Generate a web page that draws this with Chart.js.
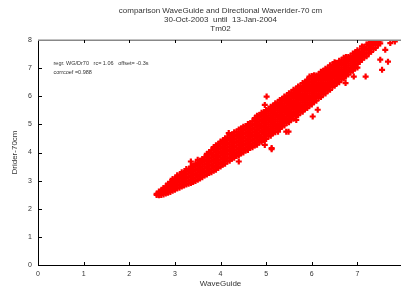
<!DOCTYPE html>
<html>
<head>
<meta charset="utf-8">
<script src="https://cdn.jsdelivr.net/npm/chart.js@4.4.1/dist/chart.umd.min.js"></script>
<style>
  html, body { margin: 0; padding: 0; background: #fff; overflow: hidden; }
  #wrap { width: 410px; height: 287px; }
</style>
</head>
<body>
<div id="wrap"><canvas id="tm02" width="410" height="287"></canvas></div>
<script>
// Tm02 비교 산점도: WaveGuide(가로) vs Directional Waverider-70cm(세로)

var titleLines = ['comparison WaveGuide and Directional Waverider-70 cm', '30-Oct-2003  until  13-Jan-2004', 'Tm02'];
var tickValues = [0, 1, 2, 3, 4, 5, 6, 7, 8];
var statLines = ['regr. WG/Dr70   rc= 1.06   offset= -0.3s', 'corrcoef =0.988'];

// WaveGuide 값 (열 단위로 읽음)
var wgCols = [
  2.60, 2.65, 2.70, 2.75, 2.80, 2.85, 2.90, 2.95, 3.00, 3.05,
  3.10, 3.15, 3.20, 3.25, 3.30, 3.35, 3.40, 3.45, 3.50, 3.55,
  3.60, 3.65, 3.70, 3.75, 3.80, 3.85, 3.90, 3.95, 4.00, 4.05,
  4.10, 4.15, 4.20, 4.25, 4.30, 4.35, 4.40, 4.45, 4.50, 4.55,
  4.60, 4.65, 4.70, 4.75, 4.80, 4.85, 4.90, 4.95, 5.00, 5.05,
  5.10, 5.15, 5.20, 5.25, 5.30, 5.35, 5.40, 5.45, 5.50, 5.55,
  5.60, 5.65, 5.70, 5.75, 5.80, 5.85, 5.90, 5.95, 6.00, 6.05,
  6.10, 6.15, 6.20, 6.25, 6.30, 6.35, 6.40, 6.45, 6.50, 6.55,
  6.60, 6.65, 6.70, 6.75, 6.80, 6.85, 6.90, 6.95, 7.00, 7.05,
  7.10, 7.15, 7.20, 7.25, 7.30, 7.35, 7.40, 7.45, 7.50
];

// 같은 열의 Waverider 값들
var drCols = [
  [2.49, 2.53],
  [2.48, 2.55, 2.61],
  [2.49, 2.57, 2.65],
  [2.51, 2.60, 2.68, 2.74],
  [2.54, 2.63, 2.72, 2.80],
  [2.57, 2.66, 2.75, 2.84, 2.89],
  [2.60, 2.69, 2.78, 2.87, 2.95],
  [2.64, 2.73, 2.82, 2.91, 3.00, 3.06],
  [2.68, 2.78, 2.88, 2.98, 3.07],
  [2.72, 2.83, 2.93, 3.03, 3.13, 3.19],
  [2.75, 2.86, 2.97, 3.08, 3.18],
  [2.79, 2.90, 3.01, 3.12, 3.23, 3.30],
  [2.83, 2.94, 3.05, 3.16, 3.27],
  [2.86, 2.98, 3.10, 3.22, 3.34, 3.41],
  [2.89, 3.01, 3.13, 3.26, 3.38],
  [2.92, 3.04, 3.17, 3.30, 3.43, 3.50],
  [2.95, 3.07, 3.20, 3.33, 3.46, 3.54],
  [2.99, 3.11, 3.24, 3.37, 3.50, 3.60],
  [3.03, 3.16, 3.29, 3.42, 3.55, 3.64],
  [3.08, 3.21, 3.34, 3.47, 3.60, 3.71],
  [3.12, 3.25, 3.38, 3.51, 3.64, 3.77],
  [3.18, 3.31, 3.44, 3.57, 3.70, 3.83],
  [3.22, 3.35, 3.48, 3.61, 3.74, 3.87, 3.95],
  [3.27, 3.40, 3.53, 3.66, 3.79, 3.92, 4.02],
  [3.30, 3.43, 3.56, 3.69, 3.82, 3.95, 4.08],
  [3.35, 3.48, 3.61, 3.74, 3.87, 4.00, 4.13, 4.19],
  [3.39, 3.52, 3.65, 3.78, 3.91, 4.04, 4.17, 4.26],
  [3.45, 3.58, 3.71, 3.84, 3.97, 4.10, 4.23, 4.30],
  [3.50, 3.63, 3.76, 3.89, 4.02, 4.15, 4.28, 4.39],
  [3.57, 3.68, 3.81, 3.94, 4.07, 4.20, 4.33, 4.43],
  [3.60, 3.73, 3.86, 3.99, 4.12, 4.25, 4.38, 4.51],
  [3.68, 3.79, 3.92, 4.05, 4.18, 4.31, 4.44, 4.54],
  [3.71, 3.83, 3.96, 4.09, 4.22, 4.35, 4.48, 4.62],
  [3.78, 3.89, 4.02, 4.15, 4.28, 4.41, 4.54, 4.64],
  [3.81, 3.94, 4.07, 4.20, 4.33, 4.46, 4.59, 4.72],
  [3.88, 3.98, 4.11, 4.24, 4.37, 4.50, 4.63, 4.74],
  [3.90, 4.03, 4.16, 4.29, 4.42, 4.55, 4.68, 4.82],
  [3.97, 4.08, 4.21, 4.34, 4.47, 4.60, 4.73, 4.85],
  [4.00, 4.13, 4.26, 4.39, 4.52, 4.65, 4.78, 4.92],
  [4.07, 4.17, 4.30, 4.43, 4.56, 4.69, 4.82, 4.94],
  [4.09, 4.22, 4.35, 4.48, 4.61, 4.74, 4.87, 5.01],
  [4.16, 4.27, 4.40, 4.53, 4.66, 4.79, 4.92, 5.04],
  [4.19, 4.32, 4.45, 4.58, 4.71, 4.84, 4.97, 5.11],
  [4.25, 4.36, 4.49, 4.62, 4.75, 4.88, 5.01, 5.14, 5.22],
  [4.28, 4.41, 4.54, 4.67, 4.80, 4.93, 5.06, 5.19, 5.31],
  [4.36, 4.46, 4.59, 4.72, 4.85, 4.98, 5.11, 5.24, 5.33],
  [4.38, 4.51, 4.64, 4.77, 4.90, 5.03, 5.16, 5.29, 5.41],
  [4.46, 4.56, 4.69, 4.82, 4.95, 5.08, 5.21, 5.34, 5.44],
  [4.48, 4.61, 4.74, 4.87, 5.00, 5.13, 5.26, 5.39, 5.51],
  [4.57, 4.67, 4.80, 4.93, 5.06, 5.19, 5.32, 5.45, 5.54],
  [4.60, 4.73, 4.86, 4.99, 5.12, 5.25, 5.38, 5.51, 5.63],
  [4.69, 4.79, 4.92, 5.05, 5.18, 5.31, 5.44, 5.57, 5.66],
  [4.72, 4.85, 4.98, 5.11, 5.24, 5.37, 5.50, 5.63, 5.75],
  [4.81, 4.91, 5.04, 5.17, 5.30, 5.43, 5.56, 5.69, 5.78],
  [4.84, 4.97, 5.10, 5.23, 5.36, 5.49, 5.62, 5.75, 5.87],
  [4.93, 5.03, 5.16, 5.29, 5.42, 5.55, 5.68, 5.81, 5.90],
  [4.96, 5.09, 5.22, 5.35, 5.48, 5.61, 5.74, 5.87, 5.99],
  [5.05, 5.15, 5.28, 5.41, 5.54, 5.67, 5.80, 5.93, 6.02],
  [5.08, 5.21, 5.34, 5.47, 5.60, 5.73, 5.86, 5.99, 6.11],
  [5.17, 5.27, 5.40, 5.53, 5.66, 5.79, 5.92, 6.05, 6.14],
  [5.20, 5.33, 5.46, 5.59, 5.72, 5.85, 5.98, 6.11, 6.23],
  [5.30, 5.40, 5.53, 5.66, 5.79, 5.92, 6.05, 6.17, 6.26],
  [5.33, 5.46, 5.59, 5.72, 5.85, 5.98, 6.11, 6.23, 6.35],
  [5.42, 5.52, 5.65, 5.78, 5.91, 6.04, 6.17, 6.29, 6.37],
  [5.45, 5.58, 5.71, 5.84, 5.97, 6.10, 6.23, 6.35, 6.47],
  [5.55, 5.65, 5.78, 5.91, 6.04, 6.17, 6.30, 6.41, 6.50],
  [5.58, 5.71, 5.84, 5.97, 6.10, 6.23, 6.36, 6.47, 6.59],
  [5.67, 5.77, 5.90, 6.03, 6.16, 6.29, 6.42, 6.53, 6.62],
  [5.71, 5.84, 5.97, 6.10, 6.23, 6.36, 6.49, 6.60, 6.72],
  [5.80, 5.90, 6.03, 6.16, 6.29, 6.42, 6.55, 6.66, 6.75],
  [5.84, 5.97, 6.10, 6.23, 6.36, 6.49, 6.62, 6.74],
  [5.94, 6.04, 6.17, 6.30, 6.43, 6.56, 6.69, 6.78],
  [5.97, 6.10, 6.23, 6.36, 6.49, 6.62, 6.75, 6.87],
  [6.07, 6.17, 6.30, 6.43, 6.56, 6.69, 6.80, 6.90],
  [6.10, 6.23, 6.36, 6.49, 6.62, 6.75, 6.86, 6.98],
  [6.20, 6.30, 6.43, 6.56, 6.69, 6.82, 6.93, 7.01],
  [6.23, 6.36, 6.49, 6.62, 6.75, 6.88, 6.98, 7.10],
  [6.33, 6.43, 6.56, 6.69, 6.82, 6.95, 7.03, 7.12],
  [6.37, 6.50, 6.63, 6.76, 6.89, 7.02, 7.10, 7.21],
  [6.47, 6.57, 6.70, 6.83, 6.96, 7.08, 7.17],
  [6.50, 6.63, 6.76, 6.89, 7.02, 7.14, 7.26],
  [6.60, 6.70, 6.83, 6.96, 7.09, 7.20, 7.28],
  [6.63, 6.76, 6.89, 7.02, 7.15, 7.27, 7.37],
  [6.73, 6.83, 6.96, 7.09, 7.22, 7.33, 7.40],
  [6.77, 6.90, 7.03, 7.16, 7.29, 7.40],
  [6.87, 6.97, 7.10, 7.23, 7.36, 7.44],
  [6.91, 7.04, 7.17, 7.30, 7.43, 7.52],
  [7.00, 7.10, 7.23, 7.36, 7.49, 7.56],
  [7.02, 7.15, 7.29, 7.42, 7.55, 7.64],
  [7.22, 7.36, 7.50, 7.60],
  [7.30, 7.44, 7.57, 7.70],
  [7.38, 7.50, 7.64, 7.75],
  [7.42, 7.56, 7.70, 7.84],
  [7.52, 7.65, 7.80, 7.90],
  [7.58, 7.74, 7.88, 7.97],
  [7.68, 7.82, 7.95],
  [7.72, 7.90, 7.98],
  [7.82, 7.96],
  [7.88, 7.99]
];

// 띠 밖으로 흩어진 점들
var wgOut = [5.01, 5.12, 5.49, 5.95, 6.02, 6.13, 6.53, 6.74, 6.92, 7.18, 7.50, 7.54, 7.67, 7.10, 7.61, 7.72, 7.82, 7.32, 7.00, 4.97, 5.26, 5.66, 6.24, 5.91, 4.97, 5.12, 4.40, 4.18, 3.35, 3.50, 5.44, 5.19];
var drOut = [5.99, 4.16, 4.74, 6.70, 5.28, 5.52, 7.18, 6.47, 6.70, 6.70, 7.30, 6.94, 7.23, 7.77, 7.65, 7.89, 7.95, 8.00, 7.47, 4.27, 4.74, 5.16, 6.41, 6.29, 5.69, 4.12, 3.68, 4.69, 3.68, 3.74, 4.74, 5.69];

var points = [];
wgCols.forEach(function (x, i) {
  drCols[i].forEach(function (y) { points.push({ x: x, y: y }); });
});
wgOut.forEach(function (x, i) { points.push({ x: x, y: drOut[i] }); });

var FONT = 'Liberation Sans, Arial, Helvetica, sans-serif';

// gnuplot 식 안쪽 눈금 + 회색 윗테두리 + 회귀 문구
var framePlugin = {
  id: 'frame',
  afterDraw: function (chart) {
    var ctx = chart.ctx, a = chart.chartArea;
    var xs = chart.scales.x, ys = chart.scales.y;
    ctx.save();
    ctx.strokeStyle = '#888';
    ctx.lineWidth = 1.5;
    ctx.beginPath(); ctx.moveTo(a.left, a.top + 0.25); ctx.lineTo(a.right, a.top + 0.25); ctx.stroke();
    ctx.strokeStyle = '#000';
    ctx.lineWidth = 1;
    tickValues.forEach(function (v) {
      if (v === 0 || v === 8) return;
      var px = Math.round(xs.getPixelForValue(v)) + 0.5;
      ctx.beginPath(); ctx.moveTo(px, a.bottom); ctx.lineTo(px, a.bottom - 3); ctx.stroke();
      ctx.beginPath(); ctx.moveTo(px, a.top); ctx.lineTo(px, a.top + 3); ctx.stroke();
      var py = Math.round(ys.getPixelForValue(v)) + 0.5;
      ctx.beginPath(); ctx.moveTo(a.left, py); ctx.lineTo(a.left + 4, py); ctx.stroke();
    });
    ctx.fillStyle = '#333';
    ctx.font = '5.5px ' + FONT;
    ctx.textBaseline = 'middle';
    ctx.fillText(statLines[0], xs.getPixelForValue(0.34), ys.getPixelForValue(7.17));
    ctx.fillText(statLines[1], xs.getPixelForValue(0.34), ys.getPixelForValue(6.84));
    ctx.restore();
  }
};

new Chart(document.getElementById('tm02'), {
  type: 'scatter',
  data: {
    datasets: [{
      data: points,
      pointStyle: 'cross',
      pointRadius: 3,
      pointBorderWidth: 2.2,
      borderColor: '#ff0000',
      backgroundColor: '#ff0000',
      clip: 0
    }]
  },
  options: {
    responsive: false,
    animation: false,
    events: [],
    layout: { padding: { left: 0, right: 2, top: 0, bottom: 0 } },
    plugins: {
      legend: { display: false },
      tooltip: { enabled: false },
      title: {
        display: true,
        fullSize: false,
        text: titleLines,
        color: '#333',
        font: { family: FONT, size: 8, weight: 'normal', lineHeight: '9px' },
        padding: { top: 6, bottom: 7 }
      }
    },
    scales: {
      x: {
        type: 'linear',
        min: 0, max: 8,
        afterFit: function (s) { s.height = 22; },
        afterBuildTicks: function (s) { s.ticks = tickValues.map(function (v) { return { value: v }; }); },
        grid: { display: false, drawTicks: false },
        border: { display: true, color: '#000', width: 1 },
        ticks: { color: '#333', font: { family: FONT, size: 7 }, padding: 5, maxRotation: 0 },
        title: { display: true, text: 'WaveGuide', color: '#333', font: { family: FONT, size: 8, lineHeight: 0.75 }, padding: { top: 0, bottom: 0 } }
      },
      y: {
        type: 'linear',
        min: 0, max: 8,
        afterFit: function (s) { s.width = 38; },
        afterBuildTicks: function (s) { s.ticks = tickValues.map(function (v) { return { value: v }; }); },
        grid: { display: false, drawTicks: false },
        border: { display: true, color: '#000', width: 1 },
        ticks: { color: '#333', font: { family: FONT, size: 7 }, padding: 6 },
        title: { display: true, text: 'Drider-70cm', color: '#333', font: { family: FONT, size: 8, lineHeight: '9px' }, padding: { top: 10 } }
      }
    }
  },
  plugins: [framePlugin]
});
</script>
</body>
</html>
